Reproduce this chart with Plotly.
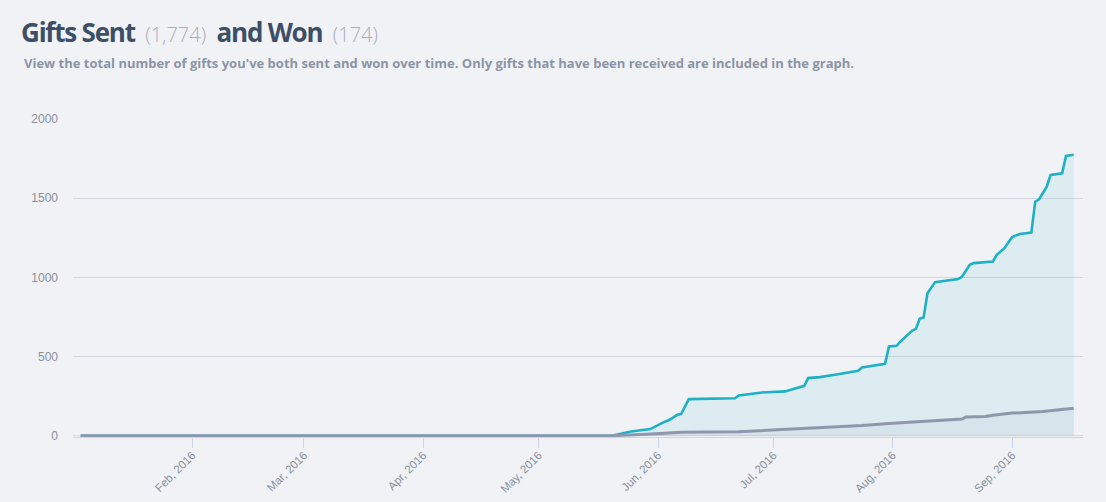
import plotly.graph_objects as go

# ---- data ----
sent_dates = ["2016-01-03", "2016-05-20", "2016-05-25", "2016-05-30", "2016-06-02", "2016-06-04",
              "2016-06-06", "2016-06-07", "2016-06-09", "2016-06-21", "2016-06-22", "2016-06-26",
              "2016-06-28", "2016-07-04", "2016-07-06", "2016-07-08", "2016-07-09", "2016-07-10",
              "2016-07-13", "2016-07-17", "2016-07-23", "2016-07-24", "2016-07-27", "2016-07-30",
              "2016-07-31", "2016-08-02", "2016-08-03", "2016-08-06", "2016-08-07", "2016-08-08",
              "2016-08-09", "2016-08-10", "2016-08-12", "2016-08-18", "2016-08-19", "2016-08-21",
              "2016-08-22", "2016-08-27", "2016-08-28", "2016-08-30", "2016-09-01", "2016-09-03",
              "2016-09-06", "2016-09-07", "2016-09-08", "2016-09-10", "2016-09-11", "2016-09-14",
              "2016-09-15", "2016-09-17"]
sent_values = [0, 0, 27, 42, 80, 101,
               132, 137, 231, 237, 254, 265,
               273, 280, 294, 311, 315, 364,
               370, 385, 410, 431, 442, 454,
               563, 568, 595, 662, 675, 738,
               746, 900, 970, 989, 1005, 1079,
               1090, 1100, 1142, 1184, 1254, 1274,
               1283, 1478, 1493, 1573, 1647, 1657,
               1767, 1774]

won_dates = ["2016-01-03", "2016-05-20", "2016-05-29", "2016-06-07", "2016-06-22", "2016-06-28",
             "2016-07-16", "2016-07-24", "2016-07-31", "2016-08-13", "2016-08-19", "2016-08-20",
             "2016-08-25", "2016-08-27", "2016-09-01", "2016-09-09", "2016-09-17"]
won_values = [0, 0, 9, 22, 25, 32,
              53, 65, 78, 95, 105, 118,
              122, 130, 143, 153, 174]

tick_dates = ["2016-02-01", "2016-03-01", "2016-04-01", "2016-05-01",
              "2016-06-01", "2016-07-01", "2016-08-01", "2016-09-01"]
tick_labels = ["Feb, 2016", "Mar, 2016", "Apr, 2016", "May, 2016",
               "Jun, 2016", "Jul, 2016", "Aug, 2016", "Sep, 2016"]
y_ticks = [0, 500, 1000, 1500, 2000]

total_sent = "1,774"
total_won = "174"

BG = "#f0f2f6"
TEAL = "#1eb1c6"
GRAY = "#8f97ad"

fig = go.Figure()
fig.add_trace(go.Scatter(
    x=sent_dates, y=sent_values, mode="lines", name="Sent",
    line=dict(color=TEAL, width=2.6),
    fill="tozeroy", fillcolor="rgba(30,177,198,0.09)",
    hoverinfo="x+y",
))
fig.add_trace(go.Scatter(
    x=won_dates, y=won_values, mode="lines", name="Won",
    line=dict(color=GRAY, width=3),
    fill="tozeroy", fillcolor="rgba(143,151,173,0.09)",
    hoverinfo="x+y",
))

fig.update_layout(
    width=1106, height=502,
    paper_bgcolor=BG, plot_bgcolor=BG,
    margin=dict(l=73, r=23, t=119, b=65),
    showlegend=False,
    font=dict(family="Liberation Sans, Arial, sans-serif", color="#8a9099", size=12),
    xaxis=dict(
        type="date",
        range=["2016-01-01", "2016-09-19 10:00"],
        tickvals=tick_dates, ticktext=tick_labels,
        tickangle=-45,
        tickfont=dict(size=11.5, color="#8a909b"),
        showgrid=False, zeroline=False,
        showline=True, linecolor="#ccd6eb", linewidth=1,
        ticks="outside", ticklen=10, tickcolor="#ccd6eb", tickwidth=1,
        ticklabelstandoff=-4,
        automargin=False,
    ),
    yaxis=dict(
        range=[-8, 2000],
        tickvals=y_ticks,
        tickfont=dict(size=12, color="#8a909b"),
        showgrid=True, gridcolor="#d3d7de", gridwidth=1,
        zeroline=False, showline=False,
        ticks="", ticklabelstandoff=14,
        automargin=False,
    ),
)

title_html = (
    '<span style="font-weight:bold;letter-spacing:-1.2px">Gifts Sent</span>'
    '<span style="font-weight:300;font-size:20px;color:#a9afba">  (' + total_sent + ')  </span>'
    '<span style="font-weight:bold;letter-spacing:-1.2px">and Won</span>'
    '<span style="font-weight:300;font-size:20px;color:#a9afba">  (' + total_won + ')</span>'
)
fig.add_annotation(
    text=title_html, xref="paper", yref="paper",
    x=0, y=1, xanchor="left", yanchor="bottom",
    xshift=-54, yshift=67,
    showarrow=False, align="left",
    font=dict(family="Open Sans", size=26, color="#3d4f66"),
)
fig.add_annotation(
    text="<b>View the total number of gifts you've both sent and won over time. "
         "Only gifts that have been received are included in the graph.</b>",
    xref="paper", yref="paper",
    x=0, y=1, xanchor="left", yanchor="bottom",
    xshift=-51, yshift=45,
    showarrow=False, align="left",
    font=dict(family="Open Sans", size=13, color="#8c94a5"),
)

fig.write_html("out.html", config={"displayModeBar": False},
               post_script="document.body.style.margin='0';")
